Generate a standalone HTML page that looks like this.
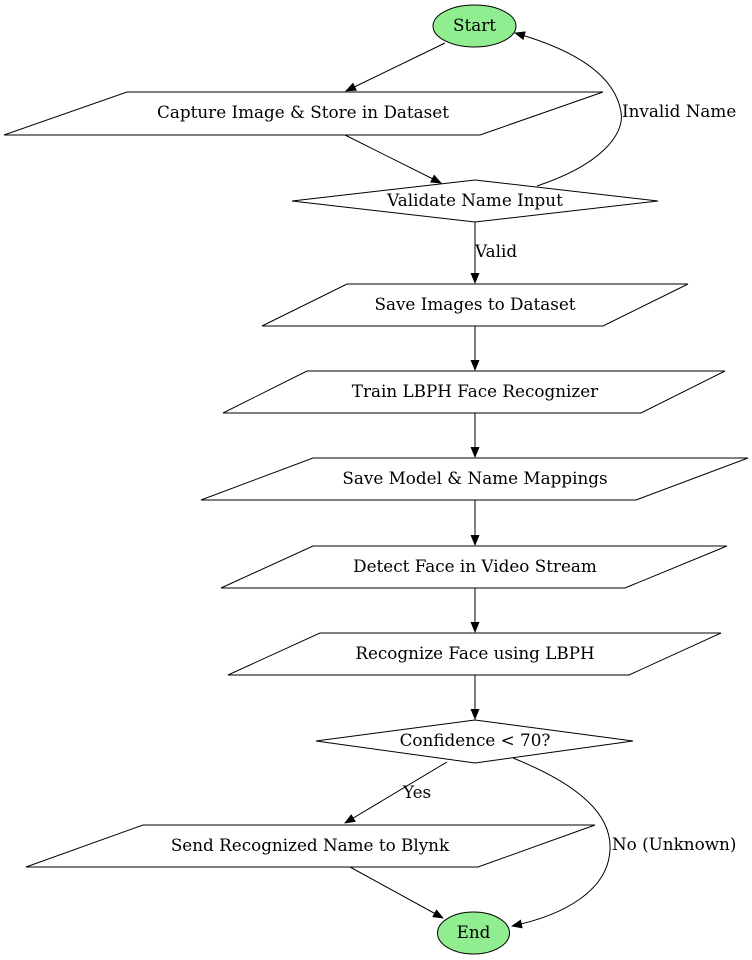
<!DOCTYPE html>
<html><head><meta charset="utf-8"><style>
html,body{margin:0;padding:0;background:#fff;}
svg{display:block;}
text{font-family:"DejaVu Serif","Liberation Serif",serif;font-size:16.8px;fill:#000;}
</style></head><body>
<svg width="752" height="960" viewBox="0 0 752 960" xmlns="http://www.w3.org/2000/svg">
<defs><marker id="a" markerWidth="11" markerHeight="9" refX="10" refY="4.5" orient="auto" markerUnits="userSpaceOnUse"><path d="M0,0 L11,4.5 L0,9 Z" fill="#000"/></marker></defs>
<g fill="none" stroke="#000" stroke-width="1">
<ellipse cx="474.5" cy="26" rx="41.5" ry="21" fill="#90ee90"/>
<polygon points="127,92 603,92 480,135 4,135" fill="#fff"/>
<polygon points="475,180 658,201 475,222 292,201" fill="#fff"/>
<polygon points="347,284 688,284 603,326 262,326" fill="#fff"/>
<polygon points="307,371 725,371 641,413 223,413" fill="#fff"/>
<polygon points="313,458 748,458 636,500 201,500" fill="#fff"/>
<polygon points="313,546 727,546 625,588 221,588" fill="#fff"/>
<polygon points="320,633 721,633 629,675 228,675" fill="#fff"/>
<polygon points="475,720 633,741 475,763 316,741" fill="#fff"/>
<polygon points="143,825 595,825 478,867 26,867" fill="#fff"/>
<ellipse cx="473.5" cy="933" rx="36" ry="21" fill="#90ee90"/>

<line x1="445" y1="43" x2="346" y2="91" marker-end="url(#a)"/>
<line x1="345" y1="135" x2="441" y2="183" marker-end="url(#a)"/>
<path d="M537,186 C600,165 625,135 621,112 C615,75 575,50 515,33" marker-end="url(#a)"/>
<line x1="475" y1="222" x2="475" y2="283" marker-end="url(#a)"/>
<line x1="475" y1="326" x2="475" y2="370" marker-end="url(#a)"/>
<line x1="475" y1="413" x2="475" y2="457" marker-end="url(#a)"/>
<line x1="475" y1="500" x2="475" y2="545" marker-end="url(#a)"/>
<line x1="475" y1="588" x2="475" y2="632" marker-end="url(#a)"/>
<line x1="475" y1="675" x2="475" y2="719" marker-end="url(#a)"/>
<line x1="447" y1="762" x2="345" y2="823" marker-end="url(#a)"/>
<path d="M513,758 C580,785 612,815 610,850 C608,890 565,915 512,926" marker-end="url(#a)"/>
<line x1="350" y1="867" x2="443" y2="918" marker-end="url(#a)"/>
</g>
<g text-anchor="middle">
<text x="474.5" y="31">Start</text>
<text x="303" y="118">Capture Image &amp; Store in Dataset</text>
<text x="475" y="206">Validate Name Input</text>
<text x="475" y="310">Save Images to Dataset</text>
<text x="475" y="397">Train LBPH Face Recognizer</text>
<text x="475" y="484">Save Model &amp; Name Mappings</text>
<text x="475" y="572">Detect Face in Video Stream</text>
<text x="475" y="659">Recognize Face using LBPH</text>
<text x="475" y="746">Confidence &lt; 70?</text>
<text x="310" y="851">Send Recognized Name to Blynk</text>
<text x="473.5" y="938">End</text>
</g>
<text x="622" y="117">Invalid Name</text>
<text x="475" y="257">Valid</text>
<text x="403" y="798">Yes</text>
<text x="612" y="850">No (Unknown)</text>
</svg>
</body></html>
